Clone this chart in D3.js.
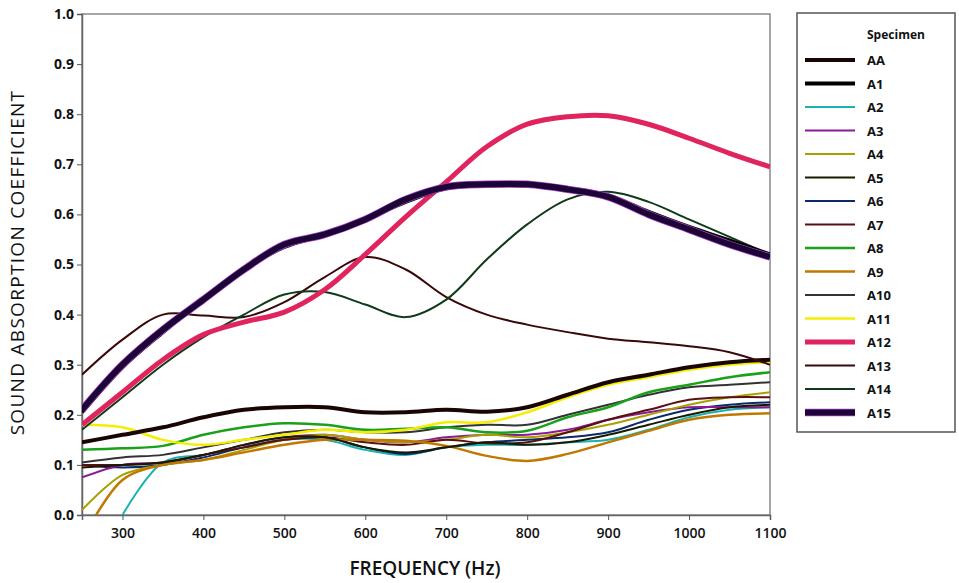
<!DOCTYPE html>
<html>
<head>
<meta charset="utf-8">
<script src="https://cdn.jsdelivr.net/npm/d3@7"></script>
<style>
    body { margin: 0; background: #fff; }
    text { font-family: "Open Sans", "DejaVu Sans", sans-serif; }
</style>
</head>
<body>
<div id="chart-area"></div>
<script>
// frequency grid (Hz) and sound absorption coefficient per specimen
let freqs = [250, 300, 350, 400, 450, 500, 550, 600, 650, 700, 750, 800, 850, 900, 950, 1000, 1050, 1100];

let AA  = [0.145, 0.16, 0.175, 0.195, 0.21, 0.215, 0.215, 0.205, 0.205, 0.21, 0.206, 0.215, 0.24, 0.265, 0.28, 0.295, 0.305, 0.31];
let A1  = [0.205, 0.295, 0.365, 0.43, 0.49, 0.535, 0.56, 0.59, 0.625, 0.652, 0.658, 0.658, 0.652, 0.638, 0.605, 0.575, 0.548, 0.52];
let A2  = [null, 0.0, 0.105, 0.12, 0.135, 0.15, 0.15, 0.13, 0.12, 0.135, 0.14, 0.14, 0.145, 0.15, 0.17, 0.195, 0.21, 0.215];
let A3  = [0.075, 0.1, 0.105, 0.12, 0.14, 0.155, 0.16, 0.15, 0.145, 0.155, 0.16, 0.16, 0.17, 0.19, 0.205, 0.215, 0.215, 0.215];
let A4  = [0.01, 0.08, 0.1, 0.11, 0.13, 0.15, 0.16, 0.15, 0.145, 0.15, 0.16, 0.155, 0.165, 0.18, 0.2, 0.22, 0.235, 0.245];
let A5  = [0.095, 0.1, 0.105, 0.12, 0.14, 0.155, 0.155, 0.135, 0.125, 0.135, 0.145, 0.14, 0.145, 0.16, 0.18, 0.2, 0.215, 0.22];
let A6  = [0.1, 0.095, 0.1, 0.115, 0.135, 0.15, 0.155, 0.135, 0.122, 0.135, 0.145, 0.15, 0.155, 0.165, 0.19, 0.21, 0.22, 0.225];
let A7  = [0.1, 0.1, 0.105, 0.12, 0.135, 0.15, 0.155, 0.145, 0.14, 0.15, 0.143, 0.145, 0.165, 0.19, 0.21, 0.23, 0.235, 0.235];
let A8  = [0.13, 0.133, 0.138, 0.16, 0.175, 0.183, 0.18, 0.17, 0.172, 0.175, 0.165, 0.168, 0.195, 0.215, 0.245, 0.26, 0.275, 0.285];
let A9  = [-0.05, 0.07, 0.1, 0.11, 0.125, 0.14, 0.15, 0.15, 0.148, 0.138, 0.118, 0.108, 0.122, 0.145, 0.168, 0.19, 0.2, 0.203];
let A10 = [0.105, 0.115, 0.12, 0.135, 0.15, 0.165, 0.17, 0.165, 0.165, 0.175, 0.18, 0.18, 0.2, 0.22, 0.24, 0.255, 0.26, 0.265];
let A11 = [0.18, 0.175, 0.15, 0.14, 0.15, 0.16, 0.17, 0.165, 0.17, 0.185, 0.185, 0.205, 0.235, 0.26, 0.275, 0.29, 0.3, 0.305];
let A12 = [0.18, 0.245, 0.31, 0.36, 0.385, 0.405, 0.45, 0.52, 0.595, 0.665, 0.735, 0.78, 0.795, 0.797, 0.78, 0.752, 0.722, 0.695];
let A13 = [0.28, 0.35, 0.4, 0.398, 0.395, 0.425, 0.475, 0.515, 0.49, 0.435, 0.4, 0.38, 0.365, 0.352, 0.345, 0.337, 0.325, 0.3];
let A14 = [0.17, 0.235, 0.3, 0.355, 0.40, 0.44, 0.445, 0.42, 0.395, 0.43, 0.51, 0.58, 0.63, 0.645, 0.625, 0.59, 0.555, 0.52];
let A15 = [0.21, 0.30, 0.37, 0.43, 0.49, 0.54, 0.56, 0.59, 0.63, 0.655, 0.66, 0.66, 0.65, 0.635, 0.60, 0.57, 0.54, 0.515];

let names = ["AA", "A1", "A2", "A3", "A4", "A5", "A6", "A7", "A8", "A9", "A10", "A11", "A12", "A13", "A14", "A15"];
let values = [AA, A1, A2, A3, A4, A5, A6, A7, A8, A9, A10, A11, A12, A13, A14, A15];
let colors = ["#1a0505", "#000000", "#18b2b2", "#8a1a9a", "#a8a000", "#1a1a00", "#0a2a6a", "#5a1010",
              "#1aa01a", "#c07800", "#333333", "#f5ee00", "#e0245e", "#3a0808", "#0f3a1a", "#1a0535"];
let widths = [4, 4, 2, 2, 2, 2, 2, 2, 2.5, 2.5, 2, 2.5, 5, 2, 2, 6];
let drawOrder = ["A2", "A6", "A3", "A4", "A7", "A9", "A5", "A10", "A8", "A11", "AA", "A13", "A14", "A12", "A1", "A15"];

let yTicks = [0, 0.1, 0.2, 0.3, 0.4, 0.5, 0.6, 0.7, 0.8, 0.9, 1.0];
let xTicks = [300, 400, 500, 600, 700, 800, 900, 1000, 1100];

let margin = { left: 82, right: 189, top: 14, bottom: 68 };
let width = 959 - margin.left - margin.right,
    height = 583 - margin.top - margin.bottom;

let svg = d3.select("#chart-area")
    .append("svg")
        .attr("width", 959)
        .attr("height", 583);

let g = svg.append("g")
        .attr("transform", `translate(${margin.left}, ${margin.top})`);

let x = d3.scaleLinear().domain([250, 1100]).range([0, width]);
let y = d3.scaleLinear().domain([0, 1]).range([height, 0]);

g.append("clipPath")
    .attr("id", "plot-clip")
    .append("rect")
        .attr("width", width)
        .attr("height", height);

// frame
g.append("rect")
    .attr("width", width)
    .attr("height", height)
    .attr("fill", "none")
    .attr("stroke", "#888")
    .attr("stroke-width", 1.5);

let xAxisCall = d3.axisBottom(x).tickValues(xTicks).tickSize(5).tickFormat(d3.format("d"));
let xAxis = g.append("g")
    .attr("class", "x axis")
    .attr("transform", `translate(0, ${height})`)
    .call(xAxisCall);
xAxis.selectAll("text")
    .attr("font-size", "14px")
    .attr("font-weight", 600)
    .attr("fill", "#111")
    .attr("dy", "1.05em");

let yAxisCall = d3.axisLeft(y).tickValues(yTicks).tickSize(5).tickFormat(d3.format(".1f"));
let yAxis = g.append("g")
    .attr("class", "y axis")
    .call(yAxisCall);
yAxis.selectAll("text")
    .attr("font-size", "14px")
    .attr("font-weight", 700)
    .attr("fill", "#111")
    .attr("x", -8);

g.selectAll(".axis path").attr("stroke", "#666").attr("stroke-width", 1.5);
g.selectAll(".axis line").attr("stroke", "#555");

g.append("text")
    .attr("class", "x axis-label")
    .attr("x", 343)
    .attr("y", height + 60)
    .attr("font-size", "19px")
    .attr("font-weight", 600)
    .attr("fill", "#111")
    .attr("text-anchor", "middle")
    .text("FREQUENCY (Hz)");

g.append("text")
    .attr("class", "y axis-label")
    .attr("x", -(height / 2) + 2)
    .attr("y", -58)
    .attr("font-size", "19px")
    .attr("letter-spacing", "1.3px")
    .attr("fill", "#111")
    .attr("text-anchor", "middle")
    .attr("transform", "rotate(-90)")
    .text("SOUND ABSORPTION COEFFICIENT");

let line = d3.line()
    .defined((d) => d.v !== null)
    .x((d) => x(d.f))
    .y((d) => y(d.v))
    .curve(d3.curveCatmullRom.alpha(0.5));

let lines = g.append("g").attr("clip-path", "url(#plot-clip)");

drawOrder.forEach((name) => {
    let i = names.indexOf(name);
    let pts = freqs.map((f, j) => ({ f: f, v: values[i][j] }));
    if (name === "A15") {
        lines.append("path")
            .attr("d", line(pts))
            .attr("fill", "none")
            .attr("stroke", "#b040d0")
            .attr("stroke-width", widths[i] + 1.5);
    }
    lines.append("path")
        .attr("d", line(pts))
        .attr("fill", "none")
        .attr("stroke", colors[i])
        .attr("stroke-width", widths[i]);
});

// legend
let legend = svg.append("g").attr("transform", "translate(797, 13)");

legend.append("rect")
    .attr("width", 158)
    .attr("height", 419)
    .attr("fill", "#fff")
    .attr("stroke", "#555")
    .attr("stroke-width", 1.5);

legend.append("text")
    .attr("x", 70)
    .attr("y", 26)
    .attr("font-size", "12px")
    .attr("font-weight", 700)
    .attr("fill", "#111")
    .text("Specimen");

names.forEach((name, i) => {
    let ly = 47 + i * 23.5;
    if (name === "A15") {
        legend.append("line")
            .attr("x1", 8).attr("x2", 58)
            .attr("y1", ly).attr("y2", ly)
            .attr("stroke", "#b040d0")
            .attr("stroke-width", widths[i] + 1.5);
    }
    legend.append("line")
        .attr("x1", 8).attr("x2", 58)
        .attr("y1", ly).attr("y2", ly)
        .attr("stroke", colors[i])
        .attr("stroke-width", widths[i]);
    legend.append("text")
        .attr("x", 70)
        .attr("y", ly + 5)
        .attr("font-size", "13px")
        .attr("font-weight", 700)
        .attr("fill", "#111")
        .text(name);
});
</script>
</body>
</html>
